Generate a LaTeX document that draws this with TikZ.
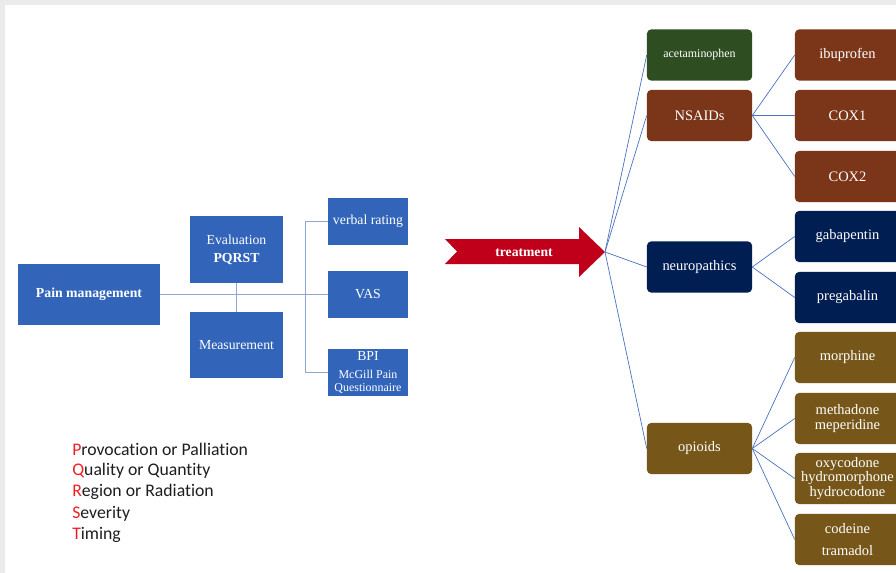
\documentclass[tikz,border=0pt]{standalone}
\usepackage{fontspec}
\setmainfont{Liberation Serif}
\newfontfamily\pqrstfont[Ligatures=NoCommon]{Carlito}
\usetikzlibrary{arrows.meta}
\definecolor{pmBlue}{HTML}{3265B9}
\definecolor{pmLine}{HTML}{8EA6D4}
\definecolor{pmSpoke}{HTML}{4A72C0}
\definecolor{pmGreen}{HTML}{2E4E22}
\definecolor{pmBrown}{HTML}{7B3519}
\definecolor{pmNavy}{HTML}{001E52}
\definecolor{pmOlive}{HTML}{765719}
\definecolor{pmRed}{HTML}{C0001A}
\definecolor{pmLetter}{HTML}{F01E24}
\definecolor{pmInk}{HTML}{1E1E1E}
\definecolor{pmGray}{HTML}{EBEBEB}
\tikzset{
  pm box/.style={fill=pmBlue, text=white, align=center, inner sep=1pt, font=\fontsize{9.8}{13}\selectfont},
  pm drug/.style={rounded corners=1mm, text=white, align=center, minimum width=26.25mm, minimum height=12.75mm, inner sep=1pt, font=\fontsize{10.3}{10.6}\selectfont},
  pm link/.style={draw=pmLine, line width=0.8pt},
  pm spoke/.style={draw=pmSpoke, line width=0.5pt},
  pm list/.style={anchor=west, inner sep=0pt, text=pmInk, font=\pqrstfont\fontsize{12.6}{15}\selectfont},
}

\begin{document}
\begin{tikzpicture}[x=0.025cm, y=-0.025cm]
  \useasboundingbox (0,0) rectangle (896,573);
  \clip (0,0) rectangle (896,573);
  \fill[pmGray] (0,0) rectangle (896,573);
  \fill[white] (5,5) rectangle (896,573);

  % assessment side
  \node[pm box, minimum width=35.5mm, minimum height=15.25mm] (pain) at (89,294.5) {\textbf{Pain management}};
  \node[pm box, minimum width=23.25mm, minimum height=16.75mm] (eval) at (236.5,249.5) {Evaluation\\\textbf{PQRST}};
  \node[pm box, minimum width=23.25mm, minimum height=16.5mm] (meas) at (236.5,345) {Measurement};
  \node[pm box, minimum width=20mm, minimum height=11.75mm] (verbal) at (368,221.5) {verbal rating};
  \node[pm box, minimum width=20mm, minimum height=11.75mm] (vas) at (368,294.5) {VAS};
  \node[pm box, minimum width=20mm, minimum height=11.75mm] (bpi) at (368,372.5)
    {BPI\\[-0.5pt]\fontsize{8.5}{9.2}\selectfont McGill Pain\\[-3.6pt]\fontsize{8.5}{9.2}\selectfont Questionnaire};

  \draw[pm link] (pain.east) -- (vas.west);
  \draw[pm link] (eval.south) -- (meas.north);
  \draw[pm link] (verbal.west) -- ++(-22,0) |- (bpi.west);

  % treatment arrow
  \fill[pmRed] (445,239) -- (579,239) -- (579,227) -- (605,252) -- (579,277)
    -- (579,264) -- (445,264) -- (457,251.5) -- cycle;
  \node[text=white, font=\bfseries\fontsize{9.7}{11}\selectfont] (treat) at (524,252.5) {treatment};
  \coordinate (tip) at (605,252);

  % drug classes
  \foreach \name/\txt/\col/\y in {acet/{\fontsize{8.5}{10}\selectfont acetaminophen}/pmGreen/55,
      nsaid/NSAIDs/pmBrown/115.5, neuro/neuropathics/pmNavy/267, opioid/opioids/pmOlive/448.5}
    \node[pm drug, fill=\col] (\name) at (699.5,\y) {\txt};

  % single drugs
  \foreach \name/\txt/\col/\y in {ibu/ibuprofen/pmBrown/55, cox1/COX1/pmBrown/115.5,
      cox2/COX2/pmBrown/176.5, gaba/gabapentin/pmNavy/236.5, prega/pregabalin/pmNavy/297.5,
      morph/morphine/pmOlive/357.5, metha/{methadone\\meperidine}/pmOlive/418.5,
      oxy/{oxycodone\\hydromorphone\\hydrocodone}/pmOlive/478.5,
      code/{codeine\\[4.4pt]tramadol}/pmOlive/539.5}
    \node[pm drug, fill=\col] (\name) at (847.5,\y) {\txt};

  \foreach \b in {acet,nsaid,neuro,opioid}
    \draw[pm spoke] (tip) -- (\b.west);
  \foreach \a/\b in {nsaid/ibu, nsaid/cox1, nsaid/cox2, neuro/gaba, neuro/prega,
      opioid/morph, opioid/metha, opioid/oxy, opioid/code}
    \draw[pm spoke] (\a.east) -- (\b.west);

  % PQRST legend
  \foreach \k/\rest [count=\n] in {P/rovocation or Palliation, Q/uality or Quantity,
      R/egion or Radiation, S/everity, T/iming}
    \node[pm list] (pqrst\n) at (72,427.5+21.5*\n) {\textcolor{pmLetter}{\k}\rest};
\end{tikzpicture}
\end{document}
